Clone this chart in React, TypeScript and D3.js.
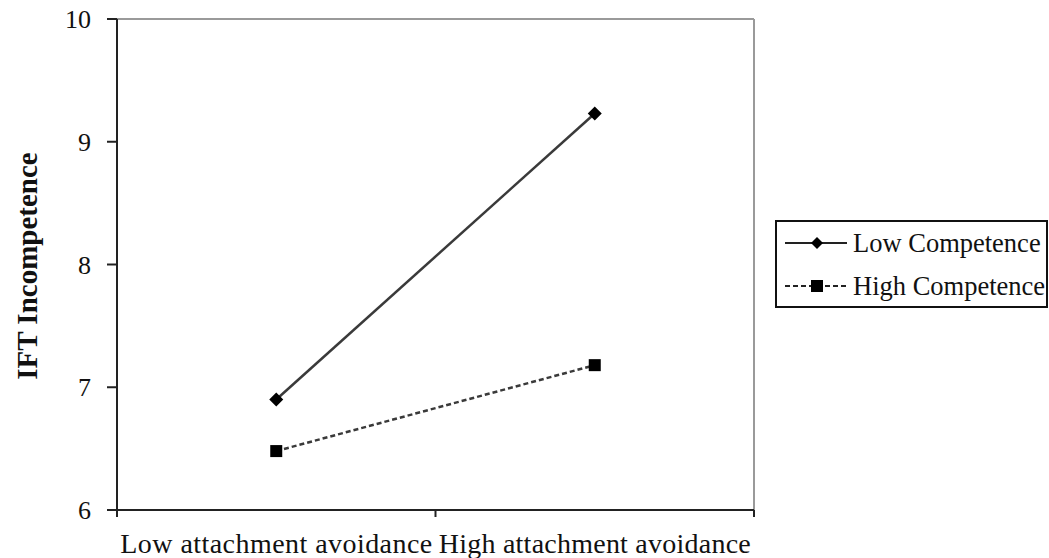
import React from 'react'
import * as d3 from 'd3'

const WIDTH = 1049
const HEIGHT = 558
const PLOT = { left: 117, right: 754, top: 19, bottom: 510 }
const FONT = '"Liberation Serif", "Times New Roman", serif'

const categories = ['Low attachment avoidance', 'High attachment avoidance']
const lowCompetence = [6.9, 9.23]
const highCompetence = [6.48, 7.18]
const yTicks = [6, 7, 8, 9, 10]
const seriesNames = ['Low Competence', 'High Competence']

export default function App() {
  const x = d3.scaleBand<string>().domain(categories).range([PLOT.left, PLOT.right]).padding(0)
  const y = d3.scaleLinear().domain([6, 10]).range([PLOT.bottom, PLOT.top])
  const cx = (c: string) => (x(c) ?? 0) + x.bandwidth() / 2
  const line = d3
    .line<number>()
    .x((_, i) => cx(categories[i]))
    .y((v) => y(v))

  const xTickPositions = [...categories.map((c) => x(c) ?? 0), PLOT.right]

  const diamond = (px: number, py: number, r: number) =>
    `M${px},${py - r}L${px + r},${py}L${px},${py + r}L${px - r},${py}Z`

  const legendX = 776
  const legendY = 221
  const rows = [243, 286]

  return (
    <div style={{ position: 'absolute', left: 0, top: 0 }}>
      <svg width={WIDTH} height={HEIGHT} style={{ display: 'block', fontFamily: FONT }}>
        <rect width={WIDTH} height={HEIGHT} fill="#fff" />
        {/* plot frame: grey top/right */}
        <line x1={PLOT.left} x2={PLOT.right} y1={PLOT.top} y2={PLOT.top} stroke="#9a9a9a" strokeWidth={2} />
        <line x1={PLOT.right} x2={PLOT.right} y1={PLOT.top} y2={PLOT.bottom} stroke="#9a9a9a" strokeWidth={2} />

        {/* y axis */}
        <line x1={PLOT.left} x2={PLOT.left} y1={PLOT.top} y2={PLOT.bottom} stroke="#222" strokeWidth={2} />
        {yTicks.map((t) => (
          <g key={t}>
            <line x1={PLOT.left - 10} x2={PLOT.left} y1={y(t)} y2={y(t)} stroke="#222" strokeWidth={2} />
            <text x={91} y={y(t)} dy="0.35em" textAnchor="end" fontSize={26} fill="#111">
              {t}
            </text>
          </g>
        ))}

        {/* x axis */}
        <line x1={PLOT.left - 10} x2={PLOT.right} y1={PLOT.bottom} y2={PLOT.bottom} stroke="#222" strokeWidth={2} />
        {xTickPositions.map((p, i) => (
          <line key={i} x1={p} x2={p} y1={PLOT.bottom} y2={PLOT.bottom + 7} stroke="#222" strokeWidth={2} />
        ))}
        {categories.map((c) => (
          <text
            key={c}
            x={cx(c)}
            y={553}
            textAnchor="middle"
            fontSize={28}
            textLength={312}
            lengthAdjust="spacing"
            fill="#111"
          >
            {c}
          </text>
        ))}

        <text
          transform={`translate(37,266) rotate(-90)`}
          textAnchor="middle"
          fontSize={29}
          fontWeight="bold"
          fill="#111"
        >
          IFT Incompetence
        </text>

        {/* series */}
        <path d={line(lowCompetence) ?? ''} fill="none" stroke="#3a3a3a" strokeWidth={2.5} />
        <path d={line(highCompetence) ?? ''} fill="none" stroke="#3a3a3a" strokeWidth={2.5} strokeDasharray="5 3" />
        {lowCompetence.map((v, i) => (
          <path key={i} d={diamond(cx(categories[i]), y(v), 7)} fill="#000" />
        ))}
        {highCompetence.map((v, i) => (
          <rect key={i} x={cx(categories[i]) - 6} y={y(v) - 6} width={12} height={12} fill="#000" />
        ))}

        {/* legend */}
        <rect x={legendX} y={legendY} width={271} height={86} fill="#fff" stroke="#111" strokeWidth={2} />
        {seriesNames.map((name, i) => (
          <g key={name}>
            <line
              x1={785}
              x2={847}
              y1={rows[i]}
              y2={rows[i]}
              stroke="#222"
              strokeWidth={2}
              strokeDasharray={i === 1 ? '5 3' : undefined}
            />
            {i === 0 ? (
              <path d={diamond(817, rows[i], 6)} fill="#000" />
            ) : (
              <rect x={811} y={rows[i] - 6} width={12} height={12} fill="#000" />
            )}
            <text x={853} y={rows[i]} dy="0.33em" fontSize={26.5} fill="#111">
              {name}
            </text>
          </g>
        ))}
      </svg>
    </div>
  )
}
